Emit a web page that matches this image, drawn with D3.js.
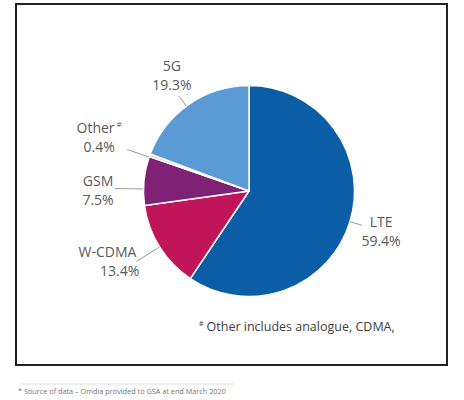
<!DOCTYPE html>
<html>
<head>
<meta charset="utf-8">
<script src="https://d3js.org/d3.v7.min.js"></script>
<style>
  html, body { margin: 0; padding: 0; background: #fff; }
  svg { display: block; }
</style>
</head>
<body>
<div id="chart"></div>
<script>
// data (share of subscriptions, %)
const technologies = ["LTE", "W-CDMA", "GSM", "Other", "5G"];
const shares = [59.4, 13.4, 7.5, 0.4, 19.3];
const sliceColors = ["#0b5ea6", "#c01558", "#7f2174", "#dcbf8f", "#5b9bd5"];
const footnote = "Other includes analogue, CDMA,";
const sourceNote = "* Source of data \u2013 Omdia provided to GSA at end March 2020";

const width = 464, height = 400;
const cx = 249, cy = 191, radius = 105.5;

// where the leader line ends (radius factor + angle tweak) and where the text goes from there
const labelLayout = {
  "LTE":    { da: 0,    k: 1.12, dx: 19,  dy: 2,    anchor: "middle" },
  "W-CDMA": { da: 0,    k: 1.26, dx: 0,   dy: -4.5, anchor: "end", valueDx: 3 },
  "GSM":    { da: -4.5, k: 1.27, dx: -17, dy: -2.5, anchor: "middle" },
  "Other":  { da: -1,   k: 1.22, dx: -28, dy: -16.5, anchor: "middle", mark: "#" },
  "5G":     { da: -1.7, k: 1.12, dx: -7,  dy: -25,  anchor: "middle" }
};

const svg = d3.select("#chart").append("svg")
  .attr("width", width)
  .attr("height", height);

// frame around the chart
svg.append("rect")
  .attr("x", 16).attr("y", 4)
  .attr("width", 431).attr("height", 361)
  .attr("fill", "#fff")
  .attr("stroke", "#222")
  .attr("stroke-width", 2);

const data = technologies.map((name, i) => ({ name: name, value: shares[i], color: sliceColors[i] }));

const pie = d3.pie()
  .sort(null)
  .value(d => d.value);

const arcs = pie(data);

const arc = d3.arc()
  .innerRadius(0)
  .outerRadius(radius);

const g = svg.append("g")
  .attr("transform", "translate(" + cx + "," + cy + ")");

g.selectAll("path.slice")
  .data(arcs)
  .enter().append("path")
  .attr("class", "slice")
  .attr("d", arc)
  .attr("fill", d => d.data.color)
  .attr("stroke", "#fff")
  .attr("stroke-width", 1.5)
  .attr("stroke-linejoin", "round");

// polar -> xy, angle measured clockwise from 12 o'clock like d3.pie
function polar(angle, r) {
  return [r * Math.sin(angle), -r * Math.cos(angle)];
}

const labels = g.selectAll("g.label")
  .data(arcs)
  .enter().append("g")
  .attr("class", "label");

labels.each(function (d) {
  const lay = labelLayout[d.data.name];
  const a = (d.startAngle + d.endAngle) / 2 + lay.da * Math.PI / 180;
  const p0 = polar(a, radius);
  const p1 = polar(a, radius * lay.k);
  const sel = d3.select(this);

  sel.append("line")
    .attr("x1", p0[0]).attr("y1", p0[1])
    .attr("x2", p1[0]).attr("y2", p1[1])
    .attr("stroke", "#8f8f8f")
    .attr("stroke-width", 0.9);

  const tx = p1[0] + lay.dx, ty = p1[1] + lay.dy;
  const text = sel.append("text")
    .attr("font-family", "'Open Sans', sans-serif")
    .attr("font-size", 14)
    .attr("fill", "#595959")
    .attr("text-anchor", lay.anchor);

  const nameLine = text.append("tspan")
    .attr("x", tx)
    .attr("y", ty)
    .text(d.data.name);
  if (lay.mark) {
    nameLine.append("tspan")
      .attr("font-size", 8)
      .attr("dx", 2)
      .attr("dy", -6)
      .text(lay.mark);
  }
  text.append("tspan")
    .attr("x", tx + (lay.valueDx || 0))
    .attr("y", ty + 19)
    .text(d3.format(".1f")(d.data.value) + "%");
});

// footnote inside the frame
const fn = svg.append("text")
  .attr("x", 199)
  .attr("y", 331)
  .attr("font-family", "'Open Sans', sans-serif")
  .attr("font-size", 12.5)
  .attr("fill", "#404040");
fn.append("tspan")
  .attr("font-size", 7)
  .attr("dy", -5)
  .text("#");
fn.append("tspan")
  .attr("dx", 3)
  .attr("dy", 5)
  .text(footnote);

// source line below the frame
svg.append("line")
  .attr("x1", 20).attr("x2", 234)
  .attr("y1", 384).attr("y2", 384)
  .attr("stroke", "#efefef")
  .attr("stroke-width", 2);

svg.append("text")
  .attr("x", 18)
  .attr("y", 394)
  .attr("font-family", "'Open Sans', sans-serif")
  .attr("font-size", 7.3)
  .attr("fill", "#777")
  .text(sourceNote);
</script>
</body>
</html>
